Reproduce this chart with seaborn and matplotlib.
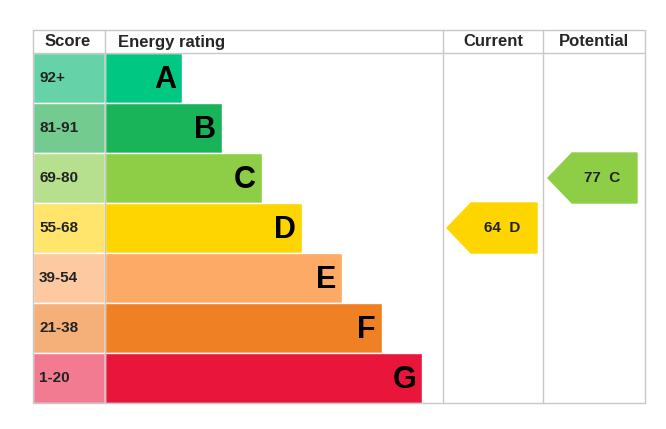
import matplotlib
matplotlib.use("Agg")
import matplotlib.pyplot as plt
import seaborn as sns
from matplotlib.patches import Polygon

sns.set_style("white")
plt.rcParams['font.family'] = ['Liberation Sans', 'DejaVu Sans']

# data
bands = ["A", "B", "C", "D", "E", "F", "G"]
scores = ["92+", "81-91", "69-80", "55-68", "39-54", "21-38", "1-20"]
bar_len = [77, 117, 157, 197, 237, 277, 317]
bar_colors = ["#00c781", "#19b459", "#8dce46", "#ffd500", "#fcaa65", "#ef8023", "#e9153b"]
score_colors = ["#66d2a8", "#74cb90", "#b7e08e", "#ffe56b", "#fcc9a0", "#f5b07a", "#f27b91"]
current = (64, "D")
potential = (77, "C")

fig = plt.figure(figsize=(6.66, 4.29), dpi=100)
ax = fig.add_axes([0, 0, 1, 1])
ax.set_xlim(0, 666)
ax.set_ylim(429, 0)
ax.axis("off")

top, head, row_h = 30, 53, 50
x0, xs, xc, xp, x1 = 33, 105, 443, 543, 645
bottom = head + row_h * len(bands)

ys = [head + row_h * i + row_h / 2 for i in range(len(bands))]
ax.barh(ys, [xs - x0] * len(bands), left=x0, height=row_h, color=score_colors)
ax.barh(ys, bar_len, left=xs, height=row_h, color=bar_colors)
for y, s, b, L in zip(ys, scores, bands, bar_len):
    ax.text(x0 + 6, y, s, va="center", ha="left", fontsize=11, fontweight="bold", color="#222")
    ax.text(xs + L - 6, y + 2, b, va="center", ha="right", fontsize=22, fontweight="bold", color="black")

# grid lines
lc = "#c8c8c8"
ax.plot([x0, x1, x1, x0, x0], [top, top, bottom, bottom, top], color=lc, lw=1)
ax.plot([x0, x1], [head, head], color=lc, lw=1)
for x in (xs, xc, xp):
    ax.plot([x, x], [top, bottom], color=lc, lw=1)
ax.text(x0 + 35, head - 11, "Score", ha="center", va="center", fontsize=12, fontweight="bold")
ax.text(xs + 13, head - 11, "Energy rating", ha="left", va="center", fontsize=12, fontweight="bold")
ax.text((xc + xp) / 2, head - 11, "Current", ha="center", va="center", fontsize=12, fontweight="bold")
ax.text((xp + x1) / 2, head - 11, "Potential", ha="center", va="center", fontsize=12, fontweight="bold")

def arrow(xl, xr, val, band):
    i = bands.index(band)
    yt = head + row_h * i
    yb = yt + row_h
    ym = (yt + yb) / 2
    pts = [(xl, ym), (xl + 24, yt), (xr, yt), (xr, yb), (xl + 24, yb)]
    ax.add_patch(Polygon(pts, closed=True, color=bar_colors[i]))
    ax.text((xl + xr) / 2 + 10, ym, f"{val}  {band}", ha="center", va="center",
            fontsize=11, fontweight="bold", color="#222")

arrow(xc + 4, xp - 6, *current)
arrow(xp + 5, x1 - 8, *potential)

fig.savefig("out.png", dpi=100)
